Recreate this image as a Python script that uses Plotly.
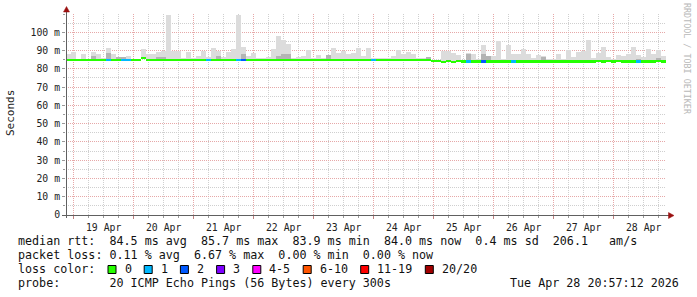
import plotly.graph_objects as go
import pandas as pd

# ---------------- data ----------------
t_start = "2026-04-18 20:57:12"
t_end = "2026-04-28 20:57:12"
bucket_hours = 2  # 120 buckets of 2 h over 10 days

median_ms = (
    [85.0] * 15 + [85.7] + [85.0] * 56 + [85.0]
    + [84.1, 84.2, 83.9, 84.2, 83.9, 84.1, 84.0]
    + [84.0] * 26 + [84.2, 84.0, 84.2, 84.0, 84.2] + [84.0] * 7 + [84.2, 84.0]
)

smoke_top_ms = [
    88, 89, 85.5, 88, 85.5, 89, 88, 86, 91.5, 88.3,
    86.5, 86, 87, 85.5, 85.5, 91, 88.3, 88, 89, 89.5,
    109.5, 89.5, 90, 86, 89, 86, 87, 90, 86.5, 91.5,
    89.5, 86.5, 89, 91, 109.5, 92, 87, 88.5, 86, 86,
    86.6, 91, 98, 96, 93.7, 86, 86.3, 87, 90.4, 86,
    87.8, 86, 87.5, 91.5, 88.8, 90, 88, 88.5, 91.5, 87,
    91.5, 86, 85.8, 85.8, 86, 87, 90.5, 88, 89, 88,
    86, 85.8, 86.5, 85, 85, 90, 90, 88.8, 87.8, 85,
    88.8, 88, 85.5, 93, 87, 87, 95.4, 85.5, 93, 88,
    88.3, 91, 88.3, 86, 87.8, 87, 85.5, 85.5, 88.3, 85.5,
    90.4, 86.5, 89, 90, 95.9, 86, 88.8, 92, 86.5, 85.5,
    87.8, 87, 88.3, 92, 87.5, 86.5, 91, 88, 90.4, 87,
]

# darker (denser) smoke, only where visible
smoke_dark_ms = {5: 87, 8: 88.5, 10: 86.5, 11: 86.3, 18: 86.2, 19: 86.2, 30: 87,
                 35: 88, 42: 86.8, 43: 88, 44: 88, 52: 87.5, 72: 86.2, 80: 88,
                 83: 88, 84: 87, 95: 86.5, 114: 85.4, 118: 86}

loss_count = [0] * 120
for i, v in {8: 1, 11: 1, 12: 1, 28: 1, 34: 1, 35: 2, 61: 1, 80: 1,
             83: 2, 89: 1, 114: 1}.items():
    loss_count[i] = v

loss_labels = ["0", "1", "2", "3", "4-5", "6-10", "11-19", "20/20"]
loss_colors = ["#26ff00", "#00b8ff", "#0059ff", "#7e00ff", "#ff00ff",
               "#ff5500", "#ff0000", "#a10000"]

y_ticks = [0, 10, 20, 30, 40, 50, 60, 70, 80, 90, 100]
y_ticktext = ["0"] + [f"{v} m" for v in y_ticks[1:]]

rtt_stats = ["84.5 ms avg", "85.7 ms max", "83.9 ms min", "84.0 ms now",
             "0.4 ms sd", "206.1   am/s"]
loss_stats = ["0.11 % avg", "6.67 % max", "0.00 % min", "0.00 % now"]
probe_text = "20 ICMP Echo Pings (56 Bytes) every 300s"
stamp_text = "Tue Apr 28 20:57:12 2026"

# ---------------- derived ----------------
n = len(smoke_top_ms)
bw = bucket_hours * 3600 * 1000
centers = pd.date_range(pd.Timestamp(t_start) + pd.Timedelta(hours=bucket_hours / 2),
                        periods=n, freq=f"{bucket_hours}h")


def loss_color(c):
    if c == 0:
        return loss_colors[0]
    if c <= 3:
        return loss_colors[c]
    if c <= 5:
        return loss_colors[4]
    if c <= 10:
        return loss_colors[5]
    if c <= 19:
        return loss_colors[6]
    return loss_colors[7]


base = [m - 0.3 for m in median_ms]
dark_h = [(smoke_dark_ms[i] - base[i]) if i in smoke_dark_ms else 0 for i in range(n)]

fig = go.Figure()
fig.add_trace(go.Bar(x=centers, y=[t - b for t, b in zip(smoke_top_ms, base)], base=base,
                     width=bw, marker=dict(color="#dcdcdc", line=dict(width=0)),
                     hoverinfo="skip"))
fig.add_trace(go.Bar(x=centers, y=dark_h, base=base, width=bw,
                     marker=dict(color="#b4b4b4", line=dict(width=0)), hoverinfo="skip"))
fig.add_trace(go.Bar(x=centers, y=[1.15] * n, base=[m - 0.575 for m in median_ms], width=bw,
                     marker=dict(color=[loss_color(c) for c in loss_count], line=dict(width=0)),
                     hoverinfo="skip"))

W, H = 697, 297
L, R, T, B = 66, 31, 14, 82
PW, PH = W - L - R, H - T - B


def px(x):
    return (x - L) / PW


def py(y):
    return (H - B - y) / PH


mono = "DejaVu Sans Mono"
red_grid = "#e6a8a8"
gray_grid = "#cfcfcf"

fig.update_layout(
    width=W, height=H, margin=dict(l=L, r=R, t=T, b=B),
    paper_bgcolor="white", plot_bgcolor="white",
    barmode="overlay", showlegend=False, bargap=0,
    font=dict(family=mono, size=10, color="#222"),
    xaxis=dict(type="date", range=[t_start, t_end], dtick=86400000,
               tick0="2026-04-19", tickformat="%d %b", ticklabelmode="period",
               showgrid=True, gridcolor=red_grid, griddash="1px,1px", gridwidth=1,
               showline=False, zeroline=False, ticks="outside", ticklen=3,
               tickcolor="#c08080", tickfont=dict(family=mono, size=9.8, color="#222"),
               minor=dict(dtick=21600000, tick0="2026-04-19", showgrid=True,
                          gridcolor=gray_grid, griddash="1px,1px", ticks="outside",
                          ticklen=2, tickcolor="#999")),
    yaxis=dict(range=[0, 110], tickmode="array", tickvals=y_ticks, ticktext=y_ticktext,
               showgrid=True, gridcolor=red_grid, griddash="1px,1px", gridwidth=1,
               showline=False, zeroline=False, ticks="outside", ticklen=3,
               tickcolor="#999", tickfont=dict(family=mono, size=9.8, color="#222"),
               minor=dict(tickmode="linear", tick0=0, dtick=5, showgrid=True,
                          gridcolor=gray_grid, griddash="1px,1px", ticks="outside",
                          ticklen=2, tickcolor="#999")),
)

shapes = []
# axis lines
shapes.append(dict(type="line", xref="paper", yref="paper", x0=px(66.5), x1=px(66.5),
                   y0=py(218), y1=py(11), line=dict(color="#606060", width=1)))
shapes.append(dict(type="line", xref="paper", yref="paper", x0=px(62), x1=px(669),
                   y0=py(215.5), y1=py(215.5), line=dict(color="#606060", width=1)))
# arrows
shapes.append(dict(type="path", xref="paper", yref="paper",
                   path=f"M {px(63.5)},{py(12)} L {px(69.5)},{py(12)} L {px(66.5)},{py(6.5)} Z",
                   fillcolor="#9a1010", line=dict(color="#9a1010", width=0.5)))
shapes.append(dict(type="path", xref="paper", yref="paper",
                   path=f"M {px(668.5)},{py(212.5)} L {px(668.5)},{py(218.5)} L {px(674)},{py(215.5)} Z",
                   fillcolor="#9a1010", line=dict(color="#9a1010", width=0.5)))

ann = []
NB = "\u00a0"
legend_font = dict(family=mono, size=11.7, color="#111")


def txt(s):
    return s.replace(" ", NB)


rows = [
    ("median rtt:  " + "  ".join(rtt_stats), 241),
    ("packet loss: " + "  ".join(loss_stats), 255),
    ("loss color:", 269),
    ("probe:       " + probe_text, 283),
]
for s, y in rows:
    ann.append(dict(xref="paper", yref="paper", x=px(16), y=py(y), text=txt(s),
                    showarrow=False, xanchor="left", yanchor="middle", font=legend_font))
ann.append(dict(xref="paper", yref="paper", x=px(681), y=py(283), text=txt(stamp_text),
                showarrow=False, xanchor="right", yanchor="middle", font=legend_font))

# loss color boxes
cw = 7.1
xb = 108
for lab, col in zip(loss_labels, loss_colors):
    shapes.append(dict(type="rect", xref="paper", yref="paper", x0=px(xb), x1=px(xb + 8),
                       y0=py(273.5), y1=py(265.5), fillcolor=col,
                       line=dict(color="#000", width=1)))
    ann.append(dict(xref="paper", yref="paper", x=px(xb + 14.5), y=py(269), text=txt(lab),
                    showarrow=False, xanchor="left", yanchor="middle", font=legend_font))
    xb = xb + 14.5 + len(lab) * cw + 14.6

# axis title and watermark
ann.append(dict(xref="paper", yref="paper", x=px(10), y=py(113), text="Seconds",
                textangle=-90, showarrow=False, xanchor="center", yanchor="middle",
                font=dict(family=mono, size=11, color="#222")))
ann.append(dict(xref="paper", yref="paper", x=px(687), y=py(59), text=txt("RRDTOOL / TOBI OETIKER"),
                textangle=90, showarrow=False, xanchor="center", yanchor="middle",
                font=dict(family=mono, size=8.4, color="#b8b8b8")))

fig.update_layout(shapes=shapes, annotations=ann)
fig.write_html("out.html")
